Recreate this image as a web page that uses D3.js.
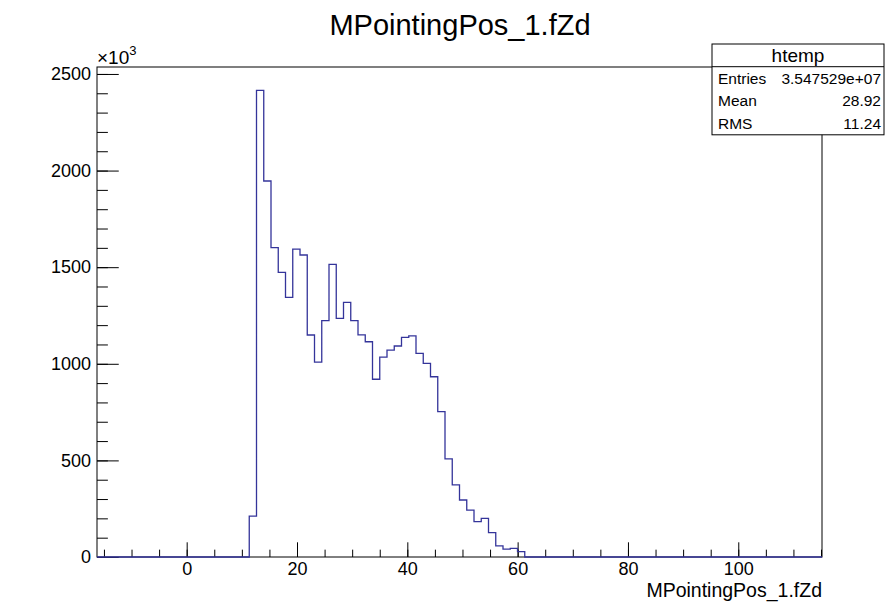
<!DOCTYPE html>
<html>
<head>
<meta charset="utf-8">
<script src="https://cdn.jsdelivr.net/npm/d3@7"></script>
<style>
  body { margin: 0; background: #fff; }
  svg { display: block; font-family: 'Liberation Sans', Arial, sans-serif; }
</style>
</head>
<body>
<script>
// Histogram binning (100 bins, as ROOT's htemp)
const xMin = -16.26;
const xMax = 115.18;
const nBins = 100;
const firstBin = 21;
// bin contents in units of 10^3 entries, starting at bin index firstBin
const counts = [
  212, 2415, 1946, 1601, 1473, 1344, 1593, 1563, 1149, 1009,
  1223, 1515, 1235, 1318, 1223, 1150, 1114, 920, 1034, 1071,
  1092, 1137, 1144, 1054, 1002, 933, 752, 508, 373, 295,
  243, 183, 200, 126, 58, 41, 45, 28,
];
const yMax = 2536;

const xTicks = [0, 20, 40, 60, 80, 100];
const yTicks = [0, 500, 1000, 1500, 2000, 2500];

const title = 'MPointingPos_1.fZd';
const xTitle = 'MPointingPos_1.fZd';
const statName = 'htemp';
const statRows = [['Entries', '3.547529e+07'], ['Mean', '28.92'], ['RMS', '11.24']];

const fullWidth = 886;
const fullHeight = 614;
const frame = { left: 97, top: 67, right: 822, bottom: 557 };
const width = frame.right - frame.left;
const height = frame.bottom - frame.top;
const lineColor = '#34349a';

const svg = d3.select('body')
  .append('svg')
  .attr('width', fullWidth)
  .attr('height', fullHeight);

const g = svg.append('g')
  .attr('transform', `translate(${frame.left}, ${frame.top})`);

// Scales
const xScale = d3.scaleLinear().domain([xMin, xMax]).range([0, width]);
const yScale = d3.scaleLinear().domain([0, yMax]).range([height, 0]);
const binWidth = (xMax - xMin) / nBins;

const bins = d3.range(nBins).map((i) => {
  const j = i - firstBin;
  return { x0: xMin + i * binWidth, x1: xMin + (i + 1) * binWidth, v: j >= 0 && j < counts.length ? counts[j] : 0 };
});

// Frame
g.append('rect')
  .attr('width', width)
  .attr('height', height)
  .attr('fill', 'none')
  .attr('stroke', '#000')
  .attr('stroke-width', 1);

// X axis (ticks point inwards)
const xMajor = 0.03 * height;
g.append('g')
  .attr('transform', `translate(0, ${height})`)
  .call(d3.axisBottom(xScale).tickValues(d3.range(-15, xMax, 5)).tickSize(-xMajor / 2).tickFormat(''))
  .call(a => a.select('.domain').remove());

const xAxis = g.append('g')
  .attr('transform', `translate(0, ${height})`)
  .call(d3.axisBottom(xScale).tickValues(xTicks).tickSize(-xMajor).tickPadding(5).tickFormat(d3.format('d')));
xAxis.select('.domain').remove();
xAxis.selectAll('text').style('font-size', '18px').attr('fill', '#000').attr('font-family', null);

g.append('text')
  .attr('x', width)
  .attr('y', height + 40)
  .attr('text-anchor', 'end')
  .style('font-size', '19.5px')
  .text(xTitle);

// Y axis
const yMajor = 0.03 * width;
g.append('g')
  .call(d3.axisLeft(yScale).tickValues(d3.range(0, yMax, 100)).tickSize(-yMajor / 2).tickFormat(''))
  .call(a => a.select('.domain').remove());

const yAxis = g.append('g')
  .call(d3.axisLeft(yScale).tickValues(yTicks).tickSize(-yMajor).tickPadding(6).tickFormat(d3.format('d')));
yAxis.select('.domain').remove();
yAxis.selectAll('text').style('font-size', '18px').attr('fill', '#000').attr('font-family', null);

const expo = g.append('text')
  .attr('x', 0)
  .attr('y', -3)
  .style('font-size', '19px');
expo.append('tspan').text('\u00d710');
expo.append('tspan').attr('dy', -9).style('font-size', '13px').text('3');

// Histogram outline
const pts = [[xScale(xMin), yScale(0)]];
bins.forEach((b) => {
  pts.push([xScale(b.x0), yScale(b.v)]);
  pts.push([xScale(b.x1), yScale(b.v)]);
});
pts.push([xScale(xMax), yScale(0)]);

g.append('path')
  .attr('d', d3.line()(pts))
  .attr('fill', 'none')
  .attr('stroke', lineColor)
  .attr('stroke-width', 1.3);

// Title
svg.append('text')
  .attr('x', 460)
  .attr('y', 35)
  .attr('text-anchor', 'middle')
  .style('font-size', '29px')
  .text(title);

// Stats box
const box = { x: 712, y: 44, w: 172, rowH: 22.7 };
const sb = svg.append('g').attr('transform', `translate(${box.x}, ${box.y})`);
sb.append('rect')
  .attr('width', box.w)
  .attr('height', box.rowH * (statRows.length + 1))
  .attr('fill', '#fff')
  .attr('stroke', '#000');
sb.append('line')
  .attr('x1', 0).attr('x2', box.w)
  .attr('y1', box.rowH).attr('y2', box.rowH)
  .attr('stroke', '#000');
sb.append('text')
  .attr('x', box.w / 2)
  .attr('y', box.rowH / 2 + 7)
  .attr('text-anchor', 'middle')
  .style('font-size', '19px')
  .text(statName);
statRows.forEach((r, i) => {
  const y = box.rowH * (i + 1.5) + 5.5;
  sb.append('text').attr('x', 6).attr('y', y).style('font-size', '15.5px').text(r[0]);
  sb.append('text').attr('x', box.w - 3).attr('y', y).attr('text-anchor', 'end').style('font-size', '15.5px').text(r[1]);
});
</script>
</body>
</html>
